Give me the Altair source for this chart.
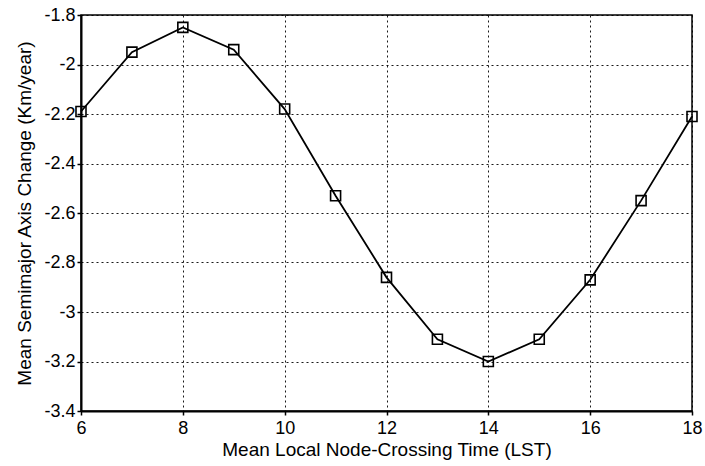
import altair as alt
import pandas as pd

hours = [6, 7, 8, 9, 10, 11, 12, 13, 14, 15, 16, 17, 18]
change = [-2.19, -1.95, -1.85, -1.94, -2.18, -2.53, -2.86, -3.11, -3.20, -3.11, -2.87, -2.55, -2.21]
x_ticks = [6, 8, 10, 12, 14, 16, 18]
y_ticks = [-3.4, -3.2, -3.0, -2.8, -2.6, -2.4, -2.2, -2.0, -1.8]

df = pd.DataFrame({"t": hours, "a": change})

font = "Liberation Sans"
label_expr = "datum.value < 0 ? '-' + format(-datum.value, '') : format(datum.value, '')"

x = alt.X("t:Q", scale=alt.Scale(domain=[6, 18], nice=False),
          axis=alt.Axis(values=x_ticks, title="Mean Local Node-Crossing Time (LST)",
                        labelExpr=label_expr, labelFlush=False))
y = alt.Y("a:Q", scale=alt.Scale(domain=[-3.4, -1.8], nice=False, zero=False),
          axis=alt.Axis(values=y_ticks, title="Mean Semimajor Axis Change (Km/year)",
                        labelExpr=label_expr, labelFlush=False))

line = alt.Chart(df).mark_line(color="black", strokeWidth=1.8).encode(x=x, y=y)
pts = alt.Chart(df).mark_point(shape="square", filled=False, color="black",
                               size=100, strokeWidth=1.6, opacity=1).encode(x=x, y=y)

chart = (line + pts).properties(
    width=611, height=396,
    autosize=alt.AutoSizeParams(type="none"),
    padding={"left": 81, "top": 15, "right": 13, "bottom": 55},
    background="white",
).configure_view(stroke="black", strokeWidth=1.5).configure_axis(
    domain=True, domainColor="black", domainWidth=2,
    grid=True, gridColor="black", gridDash=[2, 3], gridWidth=1, gridOpacity=0.9,
    ticks=True, tickColor="black", tickSize=4, tickWidth=1.5,
    labelFont=font, labelFontSize=18, labelColor="black",
    titleFont=font, titleFontSize=19, titleFontWeight="normal", titleColor="black",
).configure_axisX(labelPadding=4, titlePadding=3).configure_axisY(labelPadding=2, titlePadding=9)

chart.save("out.html", embed_options={"renderer": "svg", "actions": False})
